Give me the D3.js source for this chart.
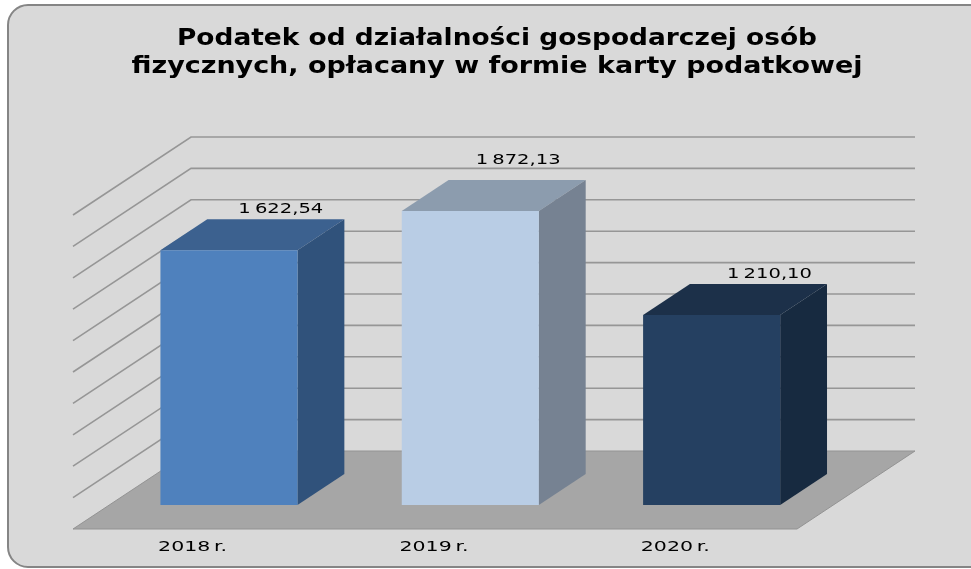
<!DOCTYPE html>
<html lang="pl">
<head>
<meta charset="utf-8">
<script src="https://d3js.org/d3.v7.min.js"></script>
<style>
    html, body { margin: 0; padding: 0; background: #fff; overflow: hidden; }
    svg { display: block; filter: blur(0.4px); }
</style>
</head>
<body>
<script>
const titleLines = [
    "Podatek od działalności gospodarczej osób",
    "fizycznych, opłacany w formie karty podatkowej"
];
const categories = ["2018 r.", "2019 r.", "2020 r."];
const values = [1622.54, 1872.13, 1210.10];
const frontColors = ["#4f81bd", "#b9cde5", "#254061"];
const topColors = ["#3c618f", "#8c9cae", "#1c3049"];
const sideColors = ["#30527b", "#768292", "#172a40"];

function createPanel() {
    const width = 971;
    const height = 569;

    // box of the 3d plot: floor front edge, how far the depth runs on screen
    const left = 73;
    const right = 797;
    const floorY = 529;
    const depthX = 118;
    const depthY = 78;
    const wallHeight = 314;

    const svg = d3.select("body")
        .append("svg")
        .attr("width", width)
        .attr("height", height);

    const x = d3.scaleBand()
        .domain(categories)
        .range([left, right])
        .paddingInner(0.432)
        .paddingOuter(0.216)
        .align(0.49);

    const y = d3.scaleLinear()
        .domain([0, 2000])
        .range([0, wallHeight]);

    // sx = along the floor, value = height, depth = 0 (front) to 1 (back wall)
    const project = (sx, value, depth) => [
        sx + depth * depthX,
        floorY - depth * depthY - y(value)
    ];
    const poly = pts => "M" + pts.map(p => p.join(",")).join("L") + "Z";

    svg.append("rect")
        .attr("x", 8)
        .attr("y", 5)
        .attr("width", width + 20)
        .attr("height", 562)
        .attr("rx", 20)
        .attr("fill", "#d9d9d9")
        .attr("stroke", "#858585")
        .attr("stroke-width", 2);

    const title = svg.append("g")
        .attr("font-family", "DejaVu Sans")
        .attr("font-weight", "bold")
        .attr("font-size", 23)
        .attr("fill", "#000");
    title.selectAll("text")
        .data(titleLines)
        .enter().append("text")
        .attr("x", 497)
        .attr("y", (d, i) => 44.5 + i * 28.5)
        .attr("text-anchor", "middle")
        .attr("textLength", (d, i) => i === 0 ? 640 : 731)
        .attr("lengthAdjust", "spacingAndGlyphs")
        .text(d => d);

    // floor
    svg.append("path")
        .attr("d", poly([
            project(left, 0, 0),
            project(right, 0, 0),
            project(right, 0, 1),
            project(left, 0, 1)
        ]))
        .attr("fill", "#a6a6a6")
        .attr("stroke", "#939393")
        .attr("stroke-width", 1);

    // grid on the side wall and back wall
    const grid = svg.append("g")
        .attr("fill", "none")
        .attr("stroke", "#969696")
        .attr("stroke-width", 1.6);
    grid.selectAll("path")
        .data(y.ticks(10).filter(d => d > 0))
        .enter().append("path")
        .attr("d", d => "M" + [
            project(left, d, 0),
            project(left, d, 1),
            project(right, d, 1)
        ].map(p => p.join(",")).join("L"));

    // bars, front face sits 0.31 into the floor and the bar is 0.4 deep
    const near = 0.308;
    const far = 0.705;
    const bars = svg.append("g")
        .selectAll("g")
        .data(values)
        .enter().append("g");

    const x0 = (i) => x(categories[i]);
    const x1 = (i) => x(categories[i]) + x.bandwidth();

    bars.append("path")
        .attr("d", (d, i) => poly([
            project(x0(i), d, near),
            project(x1(i), d, near),
            project(x1(i), d, far),
            project(x0(i), d, far)
        ]))
        .attr("fill", (d, i) => topColors[i]);
    bars.append("path")
        .attr("d", (d, i) => poly([
            project(x1(i), 0, near),
            project(x1(i), 0, far),
            project(x1(i), d, far),
            project(x1(i), d, near)
        ]))
        .attr("fill", (d, i) => sideColors[i]);
    bars.append("path")
        .attr("d", (d, i) => poly([
            project(x0(i), 0, near),
            project(x1(i), 0, near),
            project(x1(i), d, near),
            project(x0(i), d, near)
        ]))
        .attr("fill", (d, i) => frontColors[i]);

    // labels were dragged by hand in the original, so each has its own nudge
    const nudge = [[5, -6], [1, -16], [11, -6]];
    const fmt = d3.formatLocale({ decimal: ",", thousands: " ", grouping: [3], currency: ["", ""] }).format(",.2f");
    bars.append("text")
        .attr("x", (d, i) => (x0(i) + x1(i)) / 2 + far * depthX + nudge[i][0])
        .attr("y", (d, i) => project(0, d, far)[1] + nudge[i][1])
        .attr("text-anchor", "middle")
        .attr("font-family", "DejaVu Sans")
        .attr("font-size", 14.5)
        .attr("word-spacing", -1.5)
        .attr("textLength", 85)
        .attr("lengthAdjust", "spacingAndGlyphs")
        .attr("fill", "#000")
        .text(d => fmt(d));

    const axis = svg.append("g")
        .attr("transform", `translate(0,${floorY})`)
        .call(d3.axisBottom(x).tickSize(0).tickPadding(12));
    axis.select(".domain").remove();
    axis.selectAll("text")
        .attr("font-family", "DejaVu Sans")
        .attr("font-size", 14.5)
        .attr("word-spacing", -2)
        .attr("textLength", 69)
        .attr("lengthAdjust", "spacingAndGlyphs")
        .attr("fill", "#000");
}

createPanel();
</script>
</body>
</html>
